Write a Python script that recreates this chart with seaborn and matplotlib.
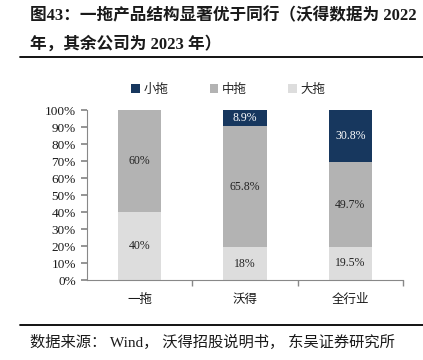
import matplotlib
matplotlib.use("Agg")
import matplotlib.pyplot as plt
from matplotlib.lines import Line2D
from matplotlib.patches import Patch
import numpy as np
import pandas as pd
import seaborn as sns

# ─── data ───────────────────────────────────────────────────────────────────
categories = ["一拖", "沃得", "全行业"]
small_vals = [0.0, 8.9, 30.8]     # 小拖
mid_vals   = [60.0, 65.8, 49.7]   # 中拖
large_vals = [40.0, 18.0, 19.5]   # 大拖
small_labels = ["", "8.9%", "30.8%"]
mid_labels   = ["60%", "65.8%", "49.7%"]
large_labels = ["40%", "18%", "19.5%"]
series_names = ["小拖", "中拖", "大拖"]
y_ticks = [0, 10, 20, 30, 40, 50, 60, 70, 80, 90, 100]

NAVY, MID, LIGHT = "#17375E", "#B3B3B3", "#DDDDDD"
FONT = ["Liberation Serif", "Noto Sans CJK SC"]

sns.set_theme(style="white")
plt.rcParams["font.family"] = FONT

# 100% stacked: normalise each bar
df = pd.DataFrame({"cat": categories, "small": small_vals,
                   "mid": mid_vals, "large": large_vals})
tot = df[["small", "mid", "large"]].sum(axis=1)
for c in ["small", "mid", "large"]:
    df[c + "_pct"] = df[c] / tot * 100
df["top_large"] = df["large_pct"]
df["top_mid"] = df["large_pct"] + df["mid_pct"]
df["top_small"] = df["top_mid"] + df["small_pct"]

fig = plt.figure(figsize=(4.23, 3.6), dpi=100)
ax = fig.add_axes([0.2057, 0.2222, 0.747, 0.4722])

W = 0.41
for col, colour in [("top_small", NAVY), ("top_mid", MID), ("top_large", LIGHT)]:
    sns.barplot(data=df, x="cat", y=col, color=colour, width=W,
                saturation=1, linewidth=0, ax=ax)

# segment labels
for i, row in df.iterrows():
    ax.text(i, row["top_large"] / 2, large_labels[i], ha="center",
            va="center", fontsize=8.5, color="#222222")
    ax.text(i, (row["top_large"] + row["top_mid"]) / 2, mid_labels[i],
            ha="center", va="center", fontsize=8.5, color="#222222")
    if small_labels[i]:
        ax.text(i, (row["top_mid"] + row["top_small"]) / 2, small_labels[i],
                ha="center", va="center", fontsize=8.5, color="white")

ax.set_xlim(-0.5, 2.5)
ax.set_ylim(0, 100)
ax.set_yticks(y_ticks)
ax.set_yticklabels([f"{t}%" for t in y_ticks], fontsize=9.5, color="#1a1a1a")
ax.set_xticks(range(len(categories)))
ax.set_xticklabels(categories, fontsize=9, color="#1a1a1a")
ax.set_xticks([0.5, 1.5, 2.5], minor=True)
ax.tick_params(axis="x", which="major", length=0, pad=10)
ax.tick_params(axis="x", which="minor", length=4, direction="out",
               color="#888888", bottom=True)
ax.tick_params(axis="y", length=4, direction="out", color="#888888",
               left=True, pad=4)
ax.set_xlabel("")
ax.set_ylabel("")
for s in ["top", "right"]:
    ax.spines[s].set_visible(False)
for s in ["left", "bottom"]:
    ax.spines[s].set_color("#888888")
    ax.spines[s].set_linewidth(0.8)

handles = [Patch(facecolor=c, edgecolor="none") for c in [NAVY, MID, LIGHT]]
fig.legend(handles, series_names, loc="center", bbox_to_anchor=(0.54, 0.75),
           ncol=3, frameon=False, fontsize=9, handlelength=0.7,
           handleheight=0.7, handletextpad=0.3, columnspacing=3.3)

# title, rules and source
fig.text(0.071, 0.955, "图43：一拖产品结构显著优于同行（沃得数据为 2022",
         fontsize=12, fontweight="bold", color="#1a1a1a", va="center")
fig.text(0.071, 0.878, "年，其余公司为 2023 年）",
         fontsize=12, fontweight="bold", color="#1a1a1a", va="center")
fig.add_artist(Line2D([0.047, 1.0], [0.842, 0.842], color="black", lw=1.3))
fig.add_artist(Line2D([0.047, 1.0], [0.097, 0.097], color="black", lw=1.3))
fig.text(0.071, 0.05, "数据来源： Wind， 沃得招股说明书， 东吴证券研究所",
         fontsize=11, color="#1a1a1a", va="center")

fig.savefig("out.png", dpi=100)
